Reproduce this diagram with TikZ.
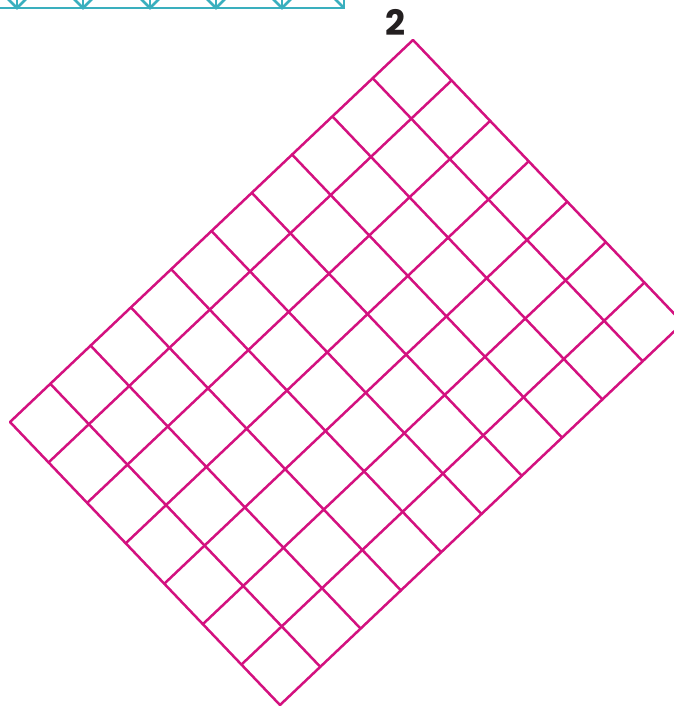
\documentclass[tikz,border=0pt]{standalone}
\usepackage{fontspec}
\setmainfont{Poppins}
\usetikzlibrary{calc}
\definecolor{mag}{HTML}{D3117F}
\definecolor{cyn}{HTML}{3AAFBE}
\definecolor{ink}{HTML}{231F20}
\tikzset{gridline/.style={draw=mag,line width=2.5pt,line cap=round,line join=round},
  trussline/.style={draw=cyn,line width=2.6pt}}
\begin{document}
\begin{tikzpicture}[x=1pt,y=-1pt]
\useasboundingbox (0,0) rectangle (674,707);
\begin{scope}
\clip (0,0) rectangle (674,707);
% magenta rotated grid: 10 x 7 cells
\coordinate (L) at (10,422);
\foreach \i in {0,...,10}{
  \draw[gridline] ($(L)+\i*(40.3,-38.2)$) -- ++(270,283);
}
\foreach \j in {0,...,7}{
  \draw[gridline] ($(L)+\j*(38.571,40.429)$) -- ++(403,-382);
}
% cyan truss remnant
\draw[trussline] (-2,8) -- (344,8) -- (344,-2);
\foreach \x in {17,83,150,216,282}{
  \draw[trussline] (\x-9,-1) -- (\x,8) -- (\x+9,-1);
  \draw[trussline] (\x,8) -- (\x,-1);
}
\draw[trussline] (335,-1) -- (344,8);
\end{scope}
\node[text=ink,font=\fontsize{35}{35}\selectfont\bfseries,inner sep=0pt] (lbl) at (395,22) {2};
\end{tikzpicture}
\end{document}
